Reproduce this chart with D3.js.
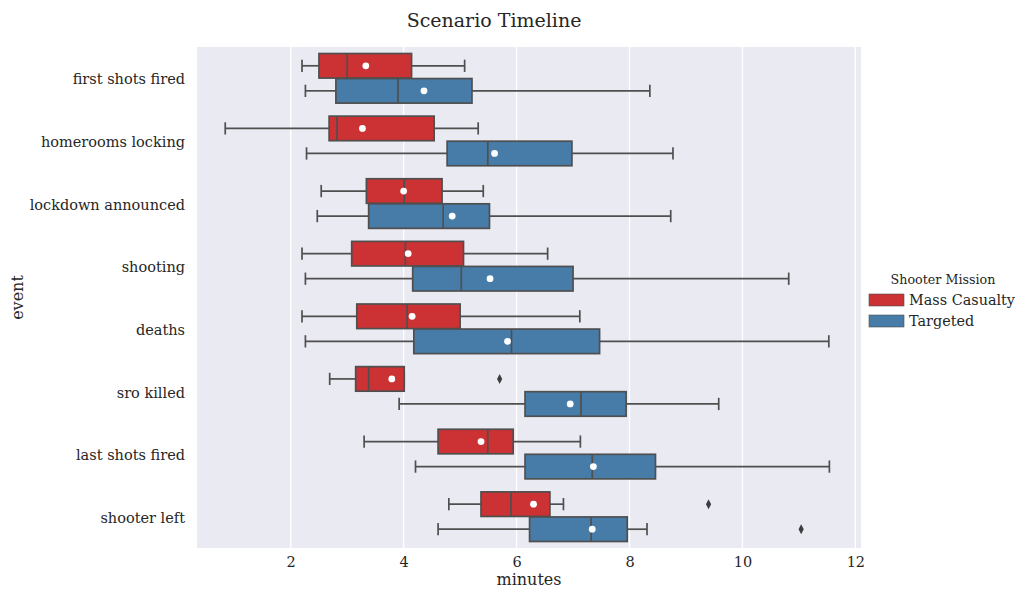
<!DOCTYPE html>
<html><head><meta charset="utf-8">
<script src="https://cdn.jsdelivr.net/npm/d3@7"></script>
<style>body{margin:0;background:#fff;} text{font-family:"DejaVu Serif",serif;}</style>
</head><body>
<svg id="c" width="1016" height="589"></svg>
<script>
const categories = ["first shots fired","homerooms locking","lockdown announced","shooting","deaths","sro killed","last shots fired","shooter left"];
const seriesNames = ["Mass Casualty","Targeted"];
const seriesColors = ["#cc3134","#477ca8"];
const xTicks = [2,4,6,8,10,12];

// Mass Casualty
const mcLow    = [2.20,0.84,2.54,2.20,2.20,2.69,3.30,4.80];
const mcQ1     = [2.50,2.68,3.34,3.08,3.17,3.15,4.61,5.37];
const mcMedian = [3.00,2.82,4.01,4.03,4.06,3.38,5.49,5.90];
const mcQ3     = [4.14,4.54,4.68,5.06,5.00,4.01,5.94,6.59];
const mcHigh   = [5.08,5.32,5.41,6.55,7.12,4.01,7.13,6.83];
const mcMean   = [3.33,3.27,4.00,4.08,4.15,3.79,5.37,6.30];
const mcOutliers = [[],[],[],[],[],[5.70],[],[9.40]];

// Targeted
const tgLow    = [2.26,2.28,2.47,2.26,2.26,3.92,4.21,4.61];
const tgQ1     = [2.80,4.77,3.38,4.16,4.18,6.15,6.15,6.23];
const tgMedian = [3.90,5.49,4.70,5.02,5.91,7.14,7.34,7.32];
const tgQ3     = [5.21,6.98,5.52,7.00,7.47,7.94,8.46,7.96];
const tgHigh   = [8.36,8.77,8.73,10.82,11.53,9.58,11.54,8.31];
const tgMean   = [4.36,5.61,4.86,5.53,5.84,6.95,7.36,7.34];
const tgOutliers = [[],[],[],[],[],[],[],[11.04]];

const series = [
  {low:mcLow,q1:mcQ1,med:mcMedian,q3:mcQ3,high:mcHigh,mean:mcMean,out:mcOutliers},
  {low:tgLow,q1:tgQ1,med:tgMedian,q3:tgQ3,high:tgHigh,mean:tgMean,out:tgOutliers}
];

const svg = d3.select("#c");
const L=197, R=861, T=47, B=548;
const x = d3.scaleLinear().domain([0.34,12.1]).range([L,R]);
const y = d3.scaleBand().domain(categories).range([T,B]).padding(0);
const hue = d3.scaleBand().domain([0,1]).range([-0.4,0.4]);
const lineCol = "#4f4f4f";

svg.append("rect").attr("x",L).attr("y",T).attr("width",R-L).attr("height",B-T).attr("fill","#eaeaf2");

// grid
svg.append("g").selectAll("line").data(xTicks).join("line")
  .attr("x1",d=>x(d)).attr("x2",d=>x(d)).attr("y1",T).attr("y2",B)
  .attr("stroke","#fff").attr("stroke-width",1.3);

// axes
const xAxis = svg.append("g").attr("transform",`translate(0,${B})`)
  .call(d3.axisBottom(x).tickValues(xTicks).tickSize(0).tickPadding(9));
xAxis.select(".domain").remove();
xAxis.selectAll("text").attr("font-size",14.5).attr("fill","#262626").attr("font-family","DejaVu Serif");

const yAxis = svg.append("g").attr("transform",`translate(${L},1.5)`)
  .call(d3.axisLeft(y).tickSize(0).tickPadding(12));
yAxis.select(".domain").remove();
yAxis.selectAll("text").attr("font-size",14.5).attr("fill","#262626").attr("font-family","DejaVu Serif");

// boxes
const bw = y.bandwidth();
series.forEach((s,si)=>{
  const g = svg.append("g");
  categories.forEach((cat,i)=>{
    const c = y(cat) + bw/2 + (hue(si)+hue.bandwidth()/2)*bw;
    const h = hue.bandwidth()*bw*0.98;
    const cap = h/2;
    const sw = 1.7;
    g.append("line").attr("x1",x(s.low[i])).attr("x2",x(s.q1[i])).attr("y1",c).attr("y2",c).attr("stroke",lineCol).attr("stroke-width",sw);
    g.append("line").attr("x1",x(s.q3[i])).attr("x2",x(s.high[i])).attr("y1",c).attr("y2",c).attr("stroke",lineCol).attr("stroke-width",sw);
    g.append("line").attr("x1",x(s.low[i])).attr("x2",x(s.low[i])).attr("y1",c-cap/2).attr("y2",c+cap/2).attr("stroke",lineCol).attr("stroke-width",sw);
    g.append("line").attr("x1",x(s.high[i])).attr("x2",x(s.high[i])).attr("y1",c-cap/2).attr("y2",c+cap/2).attr("stroke",lineCol).attr("stroke-width",sw);
    g.append("rect").attr("x",x(s.q1[i])).attr("y",c-h/2).attr("width",x(s.q3[i])-x(s.q1[i])).attr("height",h)
      .attr("fill",seriesColors[si]).attr("stroke",lineCol).attr("stroke-width",sw);
    g.append("line").attr("x1",x(s.med[i])).attr("x2",x(s.med[i])).attr("y1",c-h/2).attr("y2",c+h/2).attr("stroke",lineCol).attr("stroke-width",sw);
    g.append("circle").attr("cx",x(s.mean[i])).attr("cy",c).attr("r",3.4).attr("fill","#fff");
    s.out[i].forEach(v=>{
      g.append("path").attr("transform",`translate(${x(v)},${c})`)
        .attr("d","M0,-5L2.6,0L0,5L-2.6,0Z").attr("fill","#3d3d3d");
    });
  });
});

// titles
svg.append("text").attr("x",494).attr("y",27).attr("text-anchor","middle").attr("font-size",19).attr("fill","#262626").text("Scenario Timeline");
svg.append("text").attr("x",(L+R)/2).attr("y",585).attr("text-anchor","middle").attr("font-size",16).attr("fill","#262626").text("minutes");
svg.append("text").attr("transform",`translate(23,${(T+B)/2}) rotate(-90)`).attr("text-anchor","middle").attr("font-size",16).attr("fill","#262626").text("event");

// legend
const lg = svg.append("g");
lg.append("text").attr("x",943).attr("y",284).attr("text-anchor","middle").attr("font-size",12.7).attr("fill","#262626").text("Shooter Mission");
seriesNames.forEach((n,i)=>{
  const yy = 294 + i*21;
  lg.append("rect").attr("x",869).attr("y",yy).attr("width",35).attr("height",12).attr("fill",seriesColors[i]).attr("stroke",lineCol).attr("stroke-width",0.6);
  lg.append("text").attr("x",909).attr("y",yy+11).attr("font-size",14.4).attr("fill","#262626").text(n);
});
</script>
</body></html>
